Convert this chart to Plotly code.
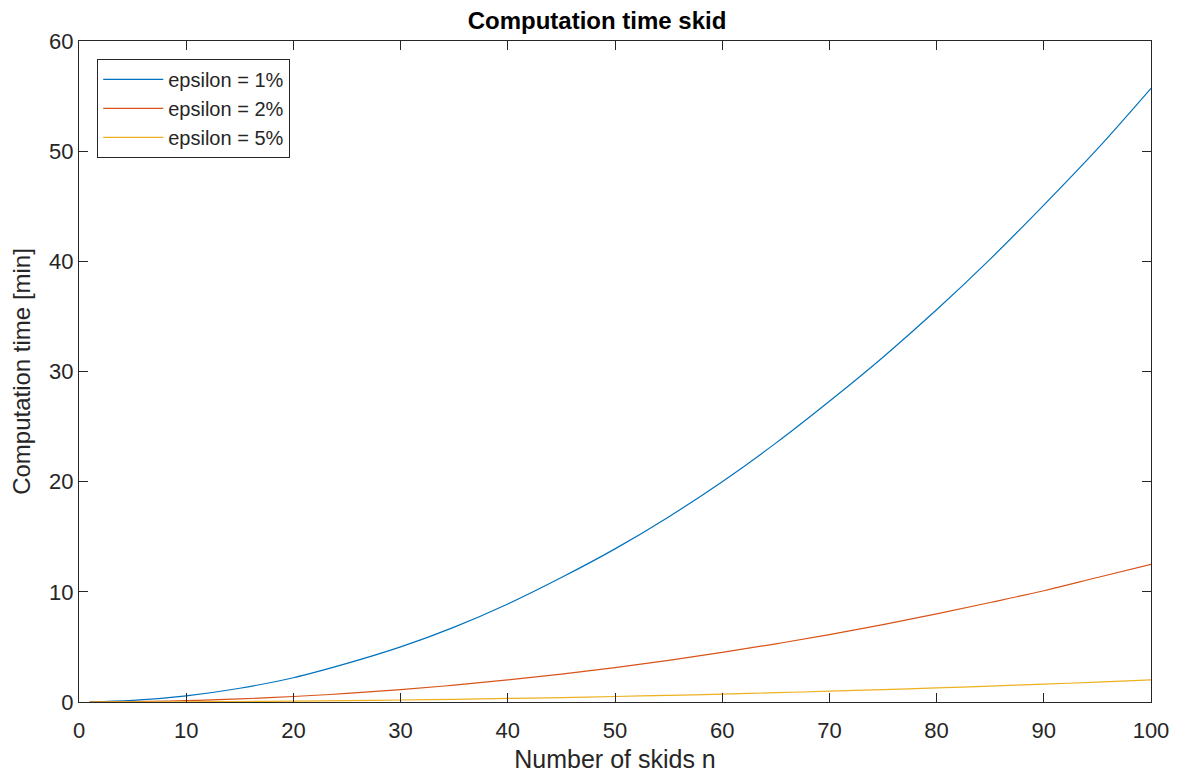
import plotly.graph_objects as go

n = [1, 5, 10, 15, 20, 25, 30, 35, 40, 45, 50, 55, 60, 65, 70, 75, 80, 85, 90, 95, 100]
eps1 = [0.006, 0.14, 0.56, 1.25, 2.2, 3.5, 5.0, 6.8, 8.9, 11.3, 13.9, 16.8, 20.0, 23.5, 27.3,
        31.3, 35.6, 40.2, 45.1, 50.2, 55.7]
eps2 = [0.001, 0.03, 0.13, 0.28, 0.5, 0.78, 1.12, 1.53, 2.0, 2.53, 3.12, 3.78, 4.5, 5.28, 6.12,
        7.03, 8.0, 9.03, 10.1, 11.3, 12.5]
eps5 = [0.0, 0.005, 0.02, 0.045, 0.08, 0.125, 0.18, 0.245, 0.32, 0.4, 0.5, 0.6, 0.72, 0.845, 0.98,
        1.125, 1.28, 1.445, 1.62, 1.8, 2.0]
names = ["epsilon = 1%", "epsilon = 2%", "epsilon = 5%"]
colors = ["#0072BD", "#D95319", "#EDB120"]

fig = go.Figure()
for ys, nm, c in zip([eps1, eps2, eps5], names, colors):
    fig.add_trace(go.Scatter(x=n, y=ys, mode="lines", name=nm,
                             line=dict(color=c, width=1.2, shape="spline")))

font = "Liberation Sans, Arial, Helvetica, sans-serif"
txt = "#262626"
axis_common = dict(showgrid=False, zeroline=False, showline=True, linecolor=txt,
                   linewidth=1, mirror="ticks", ticks="inside", ticklen=9, tickcolor=txt,
                   tickfont=dict(size=22, color=txt, family=font))
fig.update_layout(
    width=1178, height=772,
    paper_bgcolor="white", plot_bgcolor="white",
    margin=dict(l=71, r=35, t=33, b=78),
    title=dict(text="<b>Computation time skid</b>", x=0.5, xanchor="center",
               y=0.984, yanchor="middle", yref="container",
               font=dict(size=24, color="black", family=font)),
    xaxis=dict(range=[0, 100], tickvals=list(range(0, 101, 10)), ticklabelstandoff=9,
               title=dict(text="Number of skids n", font=dict(size=25, color=txt, family=font), standoff=8),
               **axis_common),
    yaxis=dict(range=[0, 60], tickvals=list(range(0, 61, 10)),
               title=dict(text="Computation time [min]", font=dict(size=24, color=txt, family=font), standoff=13),
               **axis_common),
    legend=dict(x=0.017, y=0.973, xanchor="left", yanchor="top",
                bordercolor=txt, borderwidth=1, bgcolor="white",
                font=dict(size=20, color=txt, family=font),
                tracegroupgap=0, itemwidth=60),
    showlegend=True,
)
fig.write_html("out.html")
